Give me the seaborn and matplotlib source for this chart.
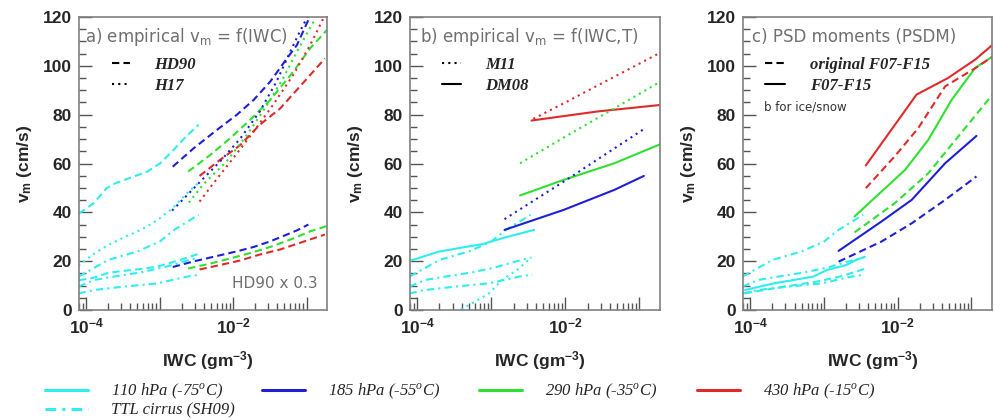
import numpy as np
import matplotlib
matplotlib.use('Agg')
import matplotlib.pyplot as plt
import seaborn as sns
from matplotlib.lines import Line2D
from matplotlib.ticker import LogLocator, NullFormatter, MultipleLocator

sns.set_style('ticks')
plt.rcParams['font.family'] = ['Liberation Sans', 'DejaVu Sans']
plt.rcParams['mathtext.default'] = 'regular'

CYAN, BLUE, GREEN, RED = '#30eded', '#1f1fd6', '#30e030', '#e02a2a'
DASH = (0, (3.5, 2))
DOT = (0, (1, 2))
DASHDOT = (0, (3.5, 2, 1, 2))

# ---- TTL cirrus (SH09), same in all panels ----
sh09_hi_x = [7.9e-5, 2.0e-4, 5.0e-4, 1.0e-3, 1.58e-3, 3.4e-3]
sh09_hi_v = [13.7, 20.5, 24.0, 28.0, 32.8, 39.0]
sh09_mid_x = [7.9e-5, 1.29e-4, 2.4e-4, 5.5e-4, 1.15e-3, 2.1e-3, 3.4e-3]
sh09_mid_v = [9.6, 12.3, 13.7, 15.4, 17.5, 19.8, 21.5]
sh09_lo_x = [7.9e-5, 1.29e-4, 3.3e-4, 9.3e-4, 2.4e-3, 3.6e-3]
sh09_lo_v = [6.8, 8.2, 9.6, 10.9, 13.7, 14.5]

# ---- panel a: HD90 (dashed), HD90 x 0.3 (dashed), H17 (dotted) ----
hd90_cyan_x = [8.0e-5, 1.26e-4, 1.9e-4, 2.5e-4, 4.5e-4, 6.8e-4, 1.02e-3, 1.55e-3, 2.3e-3, 3.4e-3]
hd90_cyan_v = [39.5, 43.7, 49.9, 51.9, 54.7, 56.7, 60.1, 65.6, 71.1, 75.9]
hd90_cyan_low = [12.2, 13.2, 15.0, 15.6, 16.5, 17.1, 18.1, 19.7, 21.3, 23.0]
hd90_blue_x = [1.51e-3, 2.9e-3, 6.0e-3, 1.12e-2, 1.9e-2, 3.2e-2, 5.4e-2, 7.4e-2, 0.106]
hd90_blue_v = [58.7, 66.2, 73.7, 79.9, 86.0, 93.5, 103.0, 108.5, 118.8]
hd90_blue_low = [17.6, 19.9, 22.1, 24.0, 25.8, 28.1, 30.9, 32.6, 35.0]
hd90_green_x = [2.45e-3, 4.9e-3, 9.1e-3, 1.7e-2, 3.2e-2, 6.6e-2, 0.112, 0.19]
hd90_green_v = [56.7, 63.5, 70.3, 77.8, 86.0, 97.6, 107.2, 114.7]
hd90_green_low = [17.0, 19.0, 21.1, 23.3, 25.8, 29.3, 32.2, 34.4]
hd90_red_x = [3.5e-3, 6.6e-3, 1.26e-2, 2.3e-2, 4.4e-2, 8.1e-2, 0.178]
hd90_red_v = [54.9, 61.4, 67.6, 75.8, 82.6, 91.5, 103.0]
hd90_red_low = [16.6, 18.4, 20.3, 22.7, 24.8, 27.5, 30.9]

h17_cyan_x = [7.9e-5, 1.2e-4, 2.0e-4, 3.4e-4, 5.75e-4, 9.5e-4, 1.48e-3, 2.3e-3, 3.4e-3]
h17_cyan_v = [18.0, 22.5, 26.6, 30.0, 33.0, 37.0, 41.5, 47.5, 52.2]
h17_blue_x = [1.48e-3, 3.5e-3, 6.6e-3, 1.26e-2, 2.3e-2, 3.9e-2, 6.0e-2, 8.1e-2, 0.105]
h17_blue_v = [40.7, 52.3, 60.7, 70.3, 81.2, 93.5, 105.8, 114.0, 120.5]
h17_green_x = [2.5e-3, 4.0e-3, 8.1e-3, 1.55e-2, 2.9e-2, 4.8e-2, 7.4e-2, 0.132]
h17_green_v = [44.0, 51.7, 60.7, 71.7, 84.0, 94.9, 105.8, 119.5]
h17_red_x = [3.5e-3, 5.4e-3, 1.0e-2, 1.9e-2, 3.5e-2, 6.6e-2, 0.112, 0.17]
h17_red_v = [44.4, 51.9, 62.1, 73.0, 84.0, 96.3, 108.5, 119.5]

# ---- panel b: DM08 (solid), M11 (dotted) ----
dm08_cyan_x = [7.9e-5, 1.95e-4, 7.6e-4, 1.58e-3, 3.8e-3]
dm08_cyan_v = [20.1, 23.9, 27.0, 29.8, 32.8]
dm08_blue_x = [1.51e-3, 9.5e-3, 4.6e-2, 0.115]
dm08_blue_v = [32.8, 41.0, 49.2, 54.9]
dm08_green_x = [2.45e-3, 9.5e-3, 4.6e-2, 0.195]
dm08_green_v = [46.9, 53.3, 60.1, 68.0]
dm08_red_x = [3.5e-3, 2.7e-2, 0.195]
dm08_red_v = [77.6, 81.3, 84.0]

m11_cyan_x = [3.3e-4, 5.5e-4, 9.3e-4, 1.4e-3, 2.24e-3, 3.5e-3]
m11_cyan_v = [-1.0, 2.7, 6.8, 12.3, 16.4, 21.6]
m11_blue_x = [1.51e-3, 1.0e-2, 0.115]
m11_blue_v = [37.2, 53.0, 74.1]
m11_green_x = [2.45e-3, 1.0e-2, 0.195]
m11_green_v = [60.1, 71.0, 93.6]
m11_red_x = [3.7e-3, 1.0e-2, 0.195]
m11_red_v = [78.3, 85.0, 105.5]

# ---- panel c: F07-F15 (solid), original F07-F15 (dashed) ----
f07_cyan_x = [8.5e-5, 2.1e-4, 7.2e-4, 1.1e-3, 2.0e-3, 2.75e-3, 3.6e-3]
f07_cyan_v = [8.2, 10.9, 13.7, 16.4, 18.4, 20.5, 21.8]
f07_blue_x = [1.58e-3, 6.0e-3, 1.55e-2, 4.4e-2, 0.117]
f07_blue_v = [24.2, 36.2, 45.1, 60.1, 71.3]
f07_green_x = [2.6e-3, 1.26e-2, 2.6e-2, 5.4e-2, 0.112, 0.20]
f07_green_v = [38.3, 57.4, 69.7, 86.1, 99.1, 104.1]
f07_red_x = [3.7e-3, 1.8e-2, 4.8e-2, 0.112, 0.20]
f07_red_v = [59.2, 88.2, 95.0, 102.5, 109.0]

orig_cyan_x = [8.5e-5, 2.1e-4, 7.9e-4, 1.66e-3, 3.8e-3]
orig_cyan_v = [6.8, 8.9, 11.6, 13.7, 17.1]
orig_blue_x = [1.58e-3, 6.0e-3, 1.55e-2, 4.4e-2, 0.117]
orig_blue_v = [19.8, 28.0, 35.5, 45.1, 54.7]
orig_green_x = [2.6e-3, 9.1e-3, 2.6e-2, 7.2e-2, 0.20]
orig_green_v = [31.8, 43.7, 56.0, 72.4, 88.8]
orig_red_x = [3.7e-3, 9.1e-3, 1.9e-2, 4.4e-2, 0.112, 0.20]
orig_red_v = [49.9, 62.9, 74.5, 91.6, 99.0, 104.0]

level_labels = [r'110 hPa (-75$^{o}$C)', r'185 hPa (-55$^{o}$C)',
                r'290 hPa (-35$^{o}$C)', r'430 hPa (-15$^{o}$C)']
ttl_label = 'TTL cirrus (SH09)'

GRAY = '#707070'


def curve(ax, x, y, color, ls):
    sns.lineplot(x=x, y=y, ax=ax, color=color, linestyle=ls, lw=1.5,
                 estimator=None, sort=False, legend=False)


def setup(ax, title, tx):
    ax.set_xscale('log')
    ax.set_xlim(8.0e-5, 0.19)
    ax.set_ylim(0, 120)
    ax.set_xticks([1e-4, 1e-3, 1e-2, 1e-1])
    ax.set_xticklabels([r'$10^{-4}$', '', r'$10^{-2}$', ''])
    ax.xaxis.set_minor_locator(LogLocator(base=10, subs=np.arange(2, 10)))
    ax.xaxis.set_minor_formatter(NullFormatter())
    ax.set_yticks(range(0, 121, 20))
    ax.yaxis.set_minor_locator(MultipleLocator(5))
    ax.tick_params(which='both', direction='in', color='#555555', width=1,
                   top=False, right=False)
    ax.tick_params(which='major', length=9.5, labelsize=12.5)
    ax.tick_params(axis='x', which='major', pad=5)
    ax.tick_params(axis='y', which='major', pad=5)
    ax.tick_params(which='minor', length=4.8)
    for lab in ax.get_xticklabels() + ax.get_yticklabels():
        lab.set_fontweight('bold')
    for sp in ax.spines.values():
        sp.set_visible(True)
        sp.set_color('#808080')
        sp.set_linewidth(1.2)
    ax.set_xlabel(r'IWC (gm$^{-3}$)', fontsize=12.5, fontweight='bold',
                  family=['Liberation Sans Narrow', 'Liberation Sans'])
    ax.xaxis.set_label_coords(0.52, -0.135)
    ax.set_ylabel(r'v$_m$ (cm/s)', fontsize=12.5, fontweight='bold')
    ax.yaxis.set_label_coords(-0.18, 0.5)
    ax.text(tx, 0.932, title, transform=ax.transAxes, va='center', ha='left',
            fontsize=12, color=GRAY, family='DejaVu Sans')
    curve(ax, sh09_hi_x, sh09_hi_v, CYAN, DASHDOT)
    curve(ax, sh09_mid_x, sh09_mid_v, CYAN, DASHDOT)
    curve(ax, sh09_lo_x, sh09_lo_v, CYAN, DASHDOT)


def inner_legend(ax, styles, labels, x, y, hl, pad):
    handles = [Line2D([], [], color='black', lw=1.5, linestyle=s) for s in styles]
    leg = ax.legend(handles, labels, loc='upper left', bbox_to_anchor=(x, y),
                    frameon=False, borderpad=0, borderaxespad=0,
                    handlelength=hl, handletextpad=pad, labelspacing=0.3,
                    prop=dict(family='Liberation Serif', style='italic',
                              weight='bold', size=12))
    return leg


fig = plt.figure(figsize=(9.95, 4.2), dpi=100)
axa = fig.add_axes([79 / 995, 1 - 310 / 420, 248 / 995, 293 / 420])
axb = fig.add_axes([410 / 995, 1 - 310 / 420, 250 / 995, 293 / 420])
axc = fig.add_axes([743 / 995, 1 - 310 / 420, 249 / 995, 293 / 420])

# panel a
setup(axa, r'a) empirical v$_m$ = f(IWC)', 0.025)
for x, v, lo, c in [(hd90_cyan_x, hd90_cyan_v, hd90_cyan_low, CYAN),
                    (hd90_blue_x, hd90_blue_v, hd90_blue_low, BLUE),
                    (hd90_green_x, hd90_green_v, hd90_green_low, GREEN),
                    (hd90_red_x, hd90_red_v, hd90_red_low, RED)]:
    curve(axa, x, v, c, DASH)
    curve(axa, x, lo, c, DASH)
for x, v, c in [(h17_cyan_x, h17_cyan_v, CYAN), (h17_blue_x, h17_blue_v, BLUE),
                (h17_green_x, h17_green_v, GREEN), (h17_red_x, h17_red_v, RED)]:
    curve(axa, x, v, c, DOT)
axa.text(0.964, 0.092, 'HD90 x 0.3', transform=axa.transAxes, ha='right',
         va='center', fontsize=11, color=GRAY, family='DejaVu Sans')
inner_legend(axa, [DASH, DOT], ['HD90', 'H17'], 0.133, 0.865, 1.1, 1.45)

# panel b
setup(axb, r'b) empirical v$_m$ = f(IWC,T)', 0.04)
for x, v, c in [(dm08_cyan_x, dm08_cyan_v, CYAN), (dm08_blue_x, dm08_blue_v, BLUE),
                (dm08_green_x, dm08_green_v, GREEN), (dm08_red_x, dm08_red_v, RED)]:
    curve(axb, x, v, c, '-')
for x, v, c in [(m11_cyan_x, m11_cyan_v, CYAN), (m11_blue_x, m11_blue_v, BLUE),
                (m11_green_x, m11_green_v, GREEN), (m11_red_x, m11_red_v, RED)]:
    curve(axb, x, v, c, DOT)
inner_legend(axb, [DOT, '-'], ['M11', 'DM08'], 0.128, 0.865, 1.15, 1.45)

# panel c
setup(axc, 'c) PSD moments (PSDM)', 0.036)
for x, v, c in [(f07_cyan_x, f07_cyan_v, CYAN), (f07_blue_x, f07_blue_v, BLUE),
                (f07_green_x, f07_green_v, GREEN), (f07_red_x, f07_red_v, RED)]:
    curve(axc, x, v, c, '-')
for x, v, c in [(orig_cyan_x, orig_cyan_v, CYAN), (orig_blue_x, orig_blue_v, BLUE),
                (orig_green_x, orig_green_v, GREEN), (orig_red_x, orig_red_v, RED)]:
    curve(axc, x, v, c, DASH)
inner_legend(axc, [DASH, '-'], ['original F07-F15', 'F07-F15'], 0.088, 0.865, 1.2, 1.5)
axc.text(0.084, 0.693, 'b for ice/snow', transform=axc.transAxes, ha='left',
         va='center', fontsize=8.5, color='#333333', family='DejaVu Sans')

# bottom legend, one column per pressure level
leg_prop = dict(family='Liberation Serif', style='italic', size=12)
cols = [([CYAN, CYAN], ['-', DASHDOT], [level_labels[0], ttl_label], 45),
        ([BLUE], ['-'], [level_labels[1]], 262),
        ([GREEN], ['-'], [level_labels[2]], 479),
        ([RED], ['-'], [level_labels[3]], 697)]
for colors, styles, labels, xpx in cols:
    hs = [Line2D([], [], color=c, lw=2.2, linestyle=s) for c, s in zip(colors, styles)]
    fig.legend(hs, labels, loc='upper left', bbox_to_anchor=(xpx / 995, 1 - 382 / 420),
               frameon=False, borderpad=0, borderaxespad=0, handlelength=2.6,
               handletextpad=1.35, labelspacing=0.1, prop=leg_prop)

fig.savefig('out.png', dpi=100)
